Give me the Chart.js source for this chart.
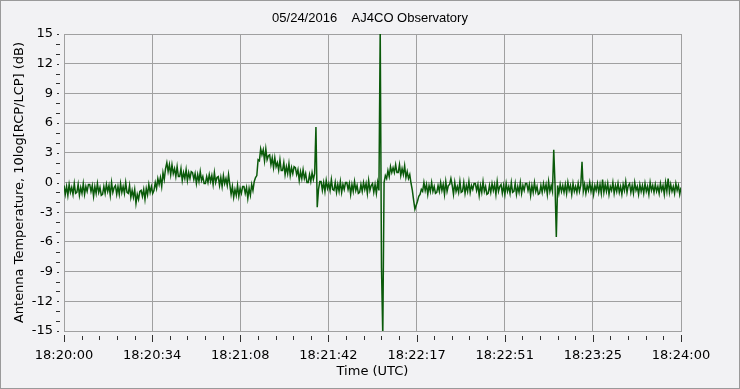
<!DOCTYPE html>
<html><head><meta charset="utf-8">
<script src="https://cdn.jsdelivr.net/npm/chart.js@4"></script>
<style>html,body{margin:0;padding:0;background:#f2f2f4;overflow:hidden}</style>
</head><body>
<canvas id="c" width="740" height="389"></canvas>
<script>
const chartTitle = '05/24/2016    AJ4CO Observatory';
const xAxisTitle = 'Time (UTC)';
const yAxisTitle = 'Antenna Temperature, 10log[RCP/LCP] (dB)';
const xTickLabels = ['18:20:00','18:20:34','18:21:08','18:21:42','18:22:17','18:22:51','18:23:25','18:24:00'];
const xSpanSeconds = 240;
const xMinorPerMajor = 5;
const yTickValues = [-15,-12,-9,-6,-3,0,3,6,9,12,15];
const sampleStepSeconds = 0.5;
// 10log[RCP/LCP] (dB), one sample every 0.5 s from 18:20:00
const signal = [
-0.3,-1.2,-0.4,-1.3,-0.2,-1.0,-0.5,-1.2,-0.1,-1.1,
-1.0,-0.2,-1.3,-0.5,-1.1,-0.1,-1.2,-0.4,-0.9,-0.2,
-0.2,-0.9,-0.3,-1.4,-0.4,-1.1,-0.1,-1.0,-0.5,-1.3,
-1.2,-0.4,-1.1,-0.2,-0.9,-0.3,-1.3,0.0,-1.0,-0.5,
-0.3,-1.2,-0.4,-1.2,-0.1,-1.0,-0.4,-1.1,0.0,-1.0,
-1.1,-0.3,-1.5,-0.8,-1.5,-0.7,-2.1,-1.2,-1.7,-0.9,
-0.8,-1.4,-0.7,-1.7,-0.6,-1.25,-0.2,-1.0,-0.4,-1.1,
-0.8,0.0,-0.6,0.4,-0.2,0.5,-0.4,1.0,0.3,1.4,
2.0,1.1,1.8,0.8,1.8,0.9,1.4,0.6,1.6,0.6,
0.6,1.4,0.2,1.0,0.4,1.3,0.2,1.0,0.4,1.1,
1.0,0.3,0.9,-0.1,0.8,0.1,1.1,0.2,0.6,-0.1,
-0.1,0.6,0.0,0.8,0.1,0.7,-0.2,1.0,0.0,0.5,
0.6,-0.3,0.5,-0.4,0.7,-0.1,0.4,-0.3,0.8,-0.2,
-1.2,-0.4,-1.5,-0.7,-1.3,-0.3,-1.4,-0.6,-1.1,-0.4,
-0.4,-1.1,-0.5,-1.6,-0.6,-1.3,-0.2,-0.8,0.1,0.5,
0.7,2.3,2.2,3.4,2.8,3.3,2.2,3.4,2.3,2.7,
2.8,1.8,2.5,1.5,2.5,1.6,2.0,1.25,2.3,1.2,
1.2,2.0,0.8,1.6,0.9,1.9,0.7,1.5,0.9,1.6,
1.5,0.8,1.3,0.2,1.1,0.4,1.3,0.4,0.9,0.0,
0.0,0.8,0.1,1.0,0.3,0.9,5.6,-2.5,-0.7,0.1,
0.1,-0.8,0.0,-0.9,0.2,-0.6,-0.1,-0.8,0.3,-0.7,
-0.8,0.0,-1.0,-0.2,-0.9,0.1,-1.0,-0.2,-0.7,0.0,
0.0,-0.7,-0.1,-1.2,-0.2,-0.9,0.1,-0.8,-0.3,-1.1,
-1.0,-0.2,-0.9,0.0,-0.7,-0.1,-1.1,0.2,-0.8,-0.3,
-0.1,-1.0,-0.2,-1.1,0.0,-0.8,15.5,-8.6,-15.5,0.0,
0.7,0.4,1.2,0.6,1.6,1.0,1.5,1.0,1.8,1.0,
1.0,1.8,0.7,1.4,0.8,1.7,0.5,1.1,0.4,0.8,
-0.1,-0.8,-1.8,-2.7,-2.3,-1.9,-1.4,-1.2,-0.7,-0.9,
0.0,-0.8,-0.2,-1.2,-0.3,-0.9,0.0,-0.9,-0.4,-1.1,
-1.0,-0.3,-0.9,0.0,-0.8,-0.2,-1.2,0.1,-0.9,-0.3,
-0.2,0.4,-0.3,-1.2,0.0,-0.9,-0.4,-1.0,0.1,-1.0,
-0.9,0.0,-1.1,-0.3,-0.9,0.1,-1.0,-0.3,-0.7,-0.1,
-0.1,-0.8,-0.2,-1.3,-0.3,-1.0,0.1,-0.9,-0.4,-1.2,
-1.1,-0.3,-1.0,-0.1,-0.8,-0.2,-1.2,0.1,-0.9,-0.4,
-0.2,-1.1,-0.3,-1.2,-0.1,-0.9,-0.4,-1.1,0.0,-1.0,
-0.9,-0.1,-1.2,-0.4,-1.0,0.0,-1.1,-0.3,-0.8,-0.1,
-0.1,-0.8,-0.2,-1.3,-0.3,-1.0,0.0,-0.9,-0.4,-1.2,
-1.1,-0.3,-1.0,-0.1,-0.8,-0.2,-1.2,0.1,-0.9,-0.3,
-0.9,3.3,-0.2,-5.5,-0.3,-1.1,-0.2,-0.9,-0.3,-1.0,
-0.2,-1.1,0.0,-0.8,-0.3,-1.2,-0.1,-0.9,-0.4,-1.0,
-0.1,-0.9,-0.3,2.1,-0.9,-0.2,-1.1,-0.3,-0.8,0.0,
-0.9,-0.2,-1.2,-0.3,-0.8,-0.1,-1.0,-0.2,-1.1,0.3,
-1.0,-0.2,-0.9,-0.1,-1.2,-0.4,-0.8,0.0,-1.1,-0.3,
-0.9,-0.1,-1.0,-0.4,-1.2,-0.2,-0.8,0.1,-1.0,-0.3,
-0.1,-1.0,-0.3,-1.1,0.0,-0.8,-0.4,-1.2,-0.2,-0.9,
-0.3,-1.1,-0.1,-0.9,-0.4,-1.2,0.0,-0.8,-0.3,-1.0,
-0.2,-0.9,-0.4,-1.1,-0.1,-0.8,-0.3,-1.2,0.0,-0.9,
0.4,-1.0,-0.2,-0.9,-0.4,-1.1,-0.1,-0.8,-0.3,-1.2,
-0.5
];

const points = signal.map((v, i) => ({x: i * sampleStepSeconds, y: v}));
const majorStep = xSpanSeconds / (xTickLabels.length - 1);
const xTickValues = xTickLabels.map((_, i) => i * majorStep);

const BG = '#f2f2f4', GRID = '#a0a0a0', TXT = '#000000';
const FONT = "'DejaVu Sans', sans-serif";

const decor = {
  id: 'decor',
  beforeDraw(chart) {
    const ctx = chart.ctx;
    ctx.save();
    ctx.fillStyle = BG;
    ctx.fillRect(0, 0, chart.width, chart.height);
    ctx.strokeStyle = '#9a9a9a';
    ctx.lineWidth = 1;
    ctx.strokeRect(0.5, 0.5, chart.width - 1, chart.height - 1);
    ctx.fillStyle = TXT;
    ctx.font = "13px 'Liberation Sans', Arial, sans-serif";
    ctx.textAlign = 'center';
    ctx.textBaseline = 'middle';
    ctx.fillText(chartTitle, chart.width / 2, 18);
    ctx.restore();
  },
  afterDraw(chart) {
    const {ctx, chartArea: a} = chart;
    const xs = chart.scales.x, ys = chart.scales.y;
    ctx.save();
    ctx.strokeStyle = '#303030';
    ctx.lineWidth = 1;
    const nMinor = (xTickLabels.length - 1) * xMinorPerMajor;
    for (let k = 0; k <= nMinor; k++) {
      const v = k * xSpanSeconds / nMinor;
      const px = Math.round(xs.getPixelForValue(v)) + 0.5;
      const major = k % xMinorPerMajor === 0;
      ctx.beginPath();
      ctx.moveTo(px, a.bottom + (major ? 4 : 5));
      ctx.lineTo(px, a.bottom + (major ? 11 : 9));
      ctx.stroke();
    }
    for (let v = yTickValues[0]; v <= yTickValues[yTickValues.length - 1]; v++) {
      const py = Math.round(ys.getPixelForValue(v)) + 0.5;
      const major = yTickValues.includes(v);
      ctx.beginPath();
      if (major) { ctx.moveTo(a.left - 7, py); ctx.lineTo(a.left - 5, py); }
      else { ctx.moveTo(a.left - 8, py); ctx.lineTo(a.left - 4, py); }
      ctx.stroke();
    }
    ctx.restore();
  }
};

new Chart(document.getElementById('c'), {
  type: 'line',
  data: {
    datasets: [{
      data: points,
      borderColor: '#0a5a0a',
      borderWidth: 1.5,
      pointRadius: 0,
      tension: 0,
      fill: false
    }]
  },
  options: {
    responsive: false,
    animation: false,
    devicePixelRatio: 1,
    layout: {padding: {left: 0, right: 59, top: 34, bottom: 0}},
    plugins: {
      legend: {display: false},
      tooltip: {enabled: false},
      title: {display: false}
    },
    scales: {
      x: {
        type: 'linear',
        min: 0,
        max: xSpanSeconds,
        afterBuildTicks: s => { s.ticks = xTickValues.map(v => ({value: v})); },
        afterFit: s => { s.height = 58; },
        ticks: {
          color: TXT,
          font: {family: FONT, size: 13},
          padding: 17,
          maxRotation: 0,
          autoSkip: false,
          callback: (v, i) => xTickLabels[i]
        },
        grid: {color: GRID, drawTicks: false, lineWidth: 1},
        border: {display: true, color: GRID},
        title: {display: true, text: xAxisTitle, color: TXT, font: {family: FONT, size: 13}, padding: {top: 0, bottom: 10}}
      },
      y: {
        type: 'linear',
        min: yTickValues[0],
        max: yTickValues[yTickValues.length - 1],
        afterBuildTicks: s => { s.ticks = yTickValues.map(v => ({value: v})); },
        afterFit: s => { s.width = 64; },
        ticks: {
          color: TXT,
          font: {family: FONT, size: 13},
          padding: 11,
          callback: v => String(v)
        },
        grid: {color: GRID, drawTicks: false, lineWidth: 1},
        border: {display: true, color: GRID},
        title: {display: true, text: yAxisTitle, color: TXT, font: {family: FONT, size: 13}, padding: {top: 12, bottom: 0}}
      }
    }
  },
  plugins: [decor]
});
</script>
</body></html>
